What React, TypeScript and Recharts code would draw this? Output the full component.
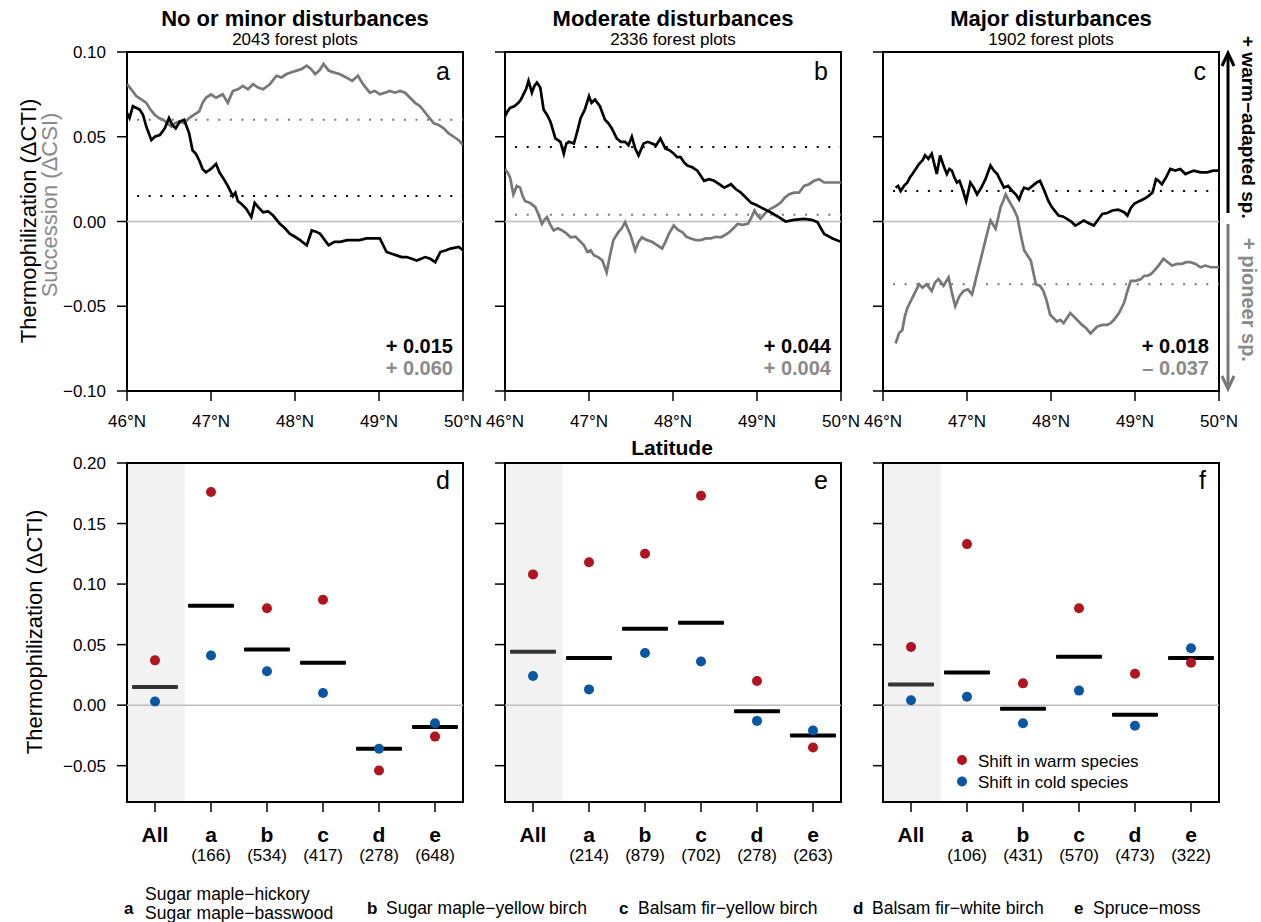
import React from 'react';
import {
  LineChart,
  ComposedChart,
  Line,
  XAxis,
  YAxis,
  ReferenceLine,
  ReferenceArea,
} from 'recharts';

const FONT = '"Liberation Sans", Arial, Helvetica, sans-serif';
const RED = '#B0141E';
const BLUE = '#0B56A3';
const GREY_LINE = '#777777';
const GREY_TEXT = '#8a8a8a';

const latTicks = [46, 47, 48, 49, 50];
const topYTicks = [-0.1, -0.05, 0, 0.05, 0.1];
const bottomYTicks = [-0.05, 0, 0.05, 0.1, 0.15, 0.2];
const groups = ['All', 'a', 'b', 'c', 'd', 'e'];
const groupTicks = [0, 1, 2, 3, 4, 5];

const titles = ['No or minor disturbances', 'Moderate disturbances', 'Major disturbances'];
const plotCounts = [2043, 2336, 1902];

// moving-window thermophilization (CTI) and succession (CSI) along latitude: [lat, value]
const ctiA: [number, number][] = [
  [46.0, 0.064], [46.03, 0.061], [46.07, 0.068], [46.15, 0.066], [46.19, 0.063], [46.23, 0.056],
  [46.29, 0.048], [46.33, 0.05], [46.39, 0.051], [46.45, 0.055], [46.5, 0.061], [46.54, 0.057],
  [46.58, 0.055], [46.63, 0.059], [46.68, 0.06], [46.74, 0.052], [46.78, 0.042], [46.82, 0.04],
  [46.86, 0.036], [46.9, 0.031], [46.94, 0.029], [47.0, 0.031], [47.06, 0.034], [47.1, 0.029],
  [47.14, 0.026], [47.2, 0.021], [47.26, 0.015], [47.29, 0.017], [47.32, 0.012], [47.37, 0.01],
  [47.42, 0.0075], [47.48, 0.0026], [47.52, 0.011], [47.57, 0.008], [47.62, 0.0055], [47.68, 0.006],
  [47.74, 0.0035], [47.82, -0.0014], [47.88, -0.004], [47.94, -0.0073], [48.0, -0.009], [48.06, -0.011],
  [48.14, -0.014], [48.2, -0.0053], [48.25, -0.006], [48.3, -0.0073], [48.4, -0.014], [48.47, -0.012],
  [48.54, -0.012], [48.62, -0.011], [48.69, -0.011], [48.77, -0.011], [48.85, -0.01], [49.01, -0.01],
  [49.09, -0.018], [49.15, -0.019], [49.21, -0.02], [49.27, -0.021], [49.33, -0.021], [49.39, -0.022],
  [49.45, -0.023], [49.55, -0.021], [49.61, -0.022], [49.67, -0.024], [49.73, -0.018], [49.8, -0.017],
  [49.85, -0.016], [49.95, -0.015], [50.0, -0.017],
];
const csiA: [number, number][] = [
  [46.0, 0.081], [46.05, 0.078], [46.11, 0.074], [46.17, 0.072], [46.23, 0.07], [46.28, 0.066],
  [46.33, 0.063], [46.38, 0.061], [46.43, 0.06], [46.48, 0.058], [46.53, 0.056], [46.57, 0.058],
  [46.62, 0.059], [46.68, 0.058], [46.74, 0.061], [46.8, 0.063], [46.86, 0.065], [46.9, 0.07],
  [46.94, 0.073], [47.0, 0.075], [47.06, 0.073], [47.1, 0.074], [47.14, 0.075], [47.2, 0.07],
  [47.26, 0.077], [47.32, 0.078], [47.38, 0.08], [47.44, 0.078], [47.5, 0.081], [47.56, 0.079],
  [47.62, 0.078], [47.7, 0.081], [47.78, 0.086], [47.84, 0.085], [47.9, 0.087], [47.96, 0.088],
  [48.02, 0.089], [48.08, 0.09], [48.14, 0.092], [48.19, 0.09], [48.24, 0.087], [48.29, 0.089],
  [48.34, 0.093], [48.4, 0.089], [48.46, 0.088], [48.53, 0.087], [48.61, 0.085], [48.68, 0.083],
  [48.75, 0.086], [48.81, 0.081], [48.89, 0.076], [48.95, 0.077], [49.01, 0.075], [49.07, 0.076],
  [49.13, 0.077], [49.19, 0.076], [49.25, 0.077], [49.31, 0.076], [49.37, 0.073], [49.43, 0.07],
  [49.49, 0.068], [49.57, 0.063], [49.65, 0.058], [49.71, 0.057], [49.77, 0.055], [49.83, 0.052],
  [49.89, 0.05], [49.95, 0.048], [50.0, 0.045],
];
const ctiB: [number, number][] = [
  [46.0, 0.062], [46.03, 0.065], [46.06, 0.067], [46.11, 0.068], [46.16, 0.07], [46.19, 0.072],
  [46.22, 0.075], [46.25, 0.078], [46.28, 0.083], [46.32, 0.076], [46.35, 0.08], [46.38, 0.082],
  [46.42, 0.079], [46.46, 0.066], [46.5, 0.063], [46.54, 0.059], [46.57, 0.054], [46.6, 0.049],
  [46.63, 0.048], [46.66, 0.047], [46.7, 0.04], [46.73, 0.046], [46.76, 0.047], [46.82, 0.046],
  [46.86, 0.053], [46.9, 0.061], [46.95, 0.066], [47.0, 0.074], [47.03, 0.07], [47.07, 0.072],
  [47.13, 0.068], [47.19, 0.06], [47.23, 0.058], [47.27, 0.055], [47.33, 0.049], [47.38, 0.047],
  [47.43, 0.047], [47.47, 0.045], [47.51, 0.05], [47.55, 0.043], [47.59, 0.039], [47.65, 0.046],
  [47.7, 0.047], [47.75, 0.046], [47.8, 0.045], [47.85, 0.049], [47.91, 0.043], [47.96, 0.042],
  [48.01, 0.04], [48.05, 0.038], [48.09, 0.038], [48.13, 0.035], [48.17, 0.033], [48.23, 0.032],
  [48.29, 0.03], [48.33, 0.027], [48.37, 0.024], [48.43, 0.025], [48.49, 0.024], [48.55, 0.022],
  [48.61, 0.02], [48.69, 0.022], [48.75, 0.019], [48.81, 0.017], [48.87, 0.014], [48.93, 0.011],
  [48.98, 0.01], [49.04, 0.0085], [49.1, 0.007], [49.16, 0.0055], [49.21, 0.004], [49.26, 0.0026],
  [49.34, 0.0], [49.44, 0.001], [49.56, 0.0016], [49.65, 0.001], [49.72, -0.0004], [49.76, -0.004],
  [49.8, -0.0073], [49.9, -0.01], [50.0, -0.012],
];
const csiB: [number, number][] = [
  [46.0, 0.031], [46.03, 0.029], [46.06, 0.026], [46.1, 0.016], [46.14, 0.021], [46.18, 0.02],
  [46.21, 0.015], [46.24, 0.012], [46.3, 0.011], [46.36, 0.0085], [46.4, 0.004], [46.44, -0.0014],
  [46.47, 0.001], [46.5, 0.0026], [46.54, -0.002], [46.58, -0.0053], [46.63, -0.004], [46.68, -0.0053],
  [46.73, -0.007], [46.78, -0.0093], [46.84, -0.009], [46.9, -0.012], [46.94, -0.014], [46.98, -0.018],
  [47.02, -0.017], [47.06, -0.02], [47.11, -0.021], [47.16, -0.023], [47.21, -0.03], [47.25, -0.02],
  [47.29, -0.011], [47.35, -0.0063], [47.39, -0.004], [47.43, -0.0004], [47.46, -0.004], [47.49, -0.0073],
  [47.52, -0.012], [47.55, -0.017], [47.59, -0.012], [47.63, -0.0093], [47.69, -0.011], [47.75, -0.012],
  [47.81, -0.014], [47.87, -0.016], [47.91, -0.012], [47.95, -0.0073], [48.01, -0.0024], [48.06, -0.005],
  [48.11, -0.0063], [48.16, -0.009], [48.21, -0.01], [48.27, -0.011], [48.33, -0.011], [48.39, -0.01],
  [48.45, -0.01], [48.51, -0.009], [48.57, -0.0093], [48.62, -0.008], [48.67, -0.0063], [48.72, -0.004],
  [48.77, -0.0014], [48.83, -0.002], [48.89, -0.0014], [48.93, 0.002], [48.97, 0.0065], [49.0, 0.004],
  [49.04, 0.0016], [49.1, 0.005], [49.16, 0.0075], [49.22, 0.009], [49.28, 0.011], [49.33, 0.014],
  [49.38, 0.016], [49.44, 0.017], [49.5, 0.017], [49.56, 0.021], [49.62, 0.022], [49.68, 0.024],
  [49.74, 0.025], [49.8, 0.023], [49.9, 0.023], [50.0, 0.023],
];
const ctiC: [number, number][] = [
  [46.15, 0.02], [46.18, 0.021], [46.21, 0.018], [46.25, 0.021], [46.29, 0.023], [46.32, 0.026],
  [46.35, 0.028], [46.39, 0.031], [46.43, 0.034], [46.47, 0.036], [46.5, 0.039], [46.54, 0.037],
  [46.58, 0.04], [46.61, 0.034], [46.64, 0.028], [46.68, 0.039], [46.72, 0.033], [46.76, 0.028],
  [46.79, 0.031], [46.82, 0.03], [46.85, 0.026], [46.88, 0.023], [46.91, 0.024], [46.94, 0.02],
  [46.99, 0.012], [47.04, 0.023], [47.08, 0.02], [47.12, 0.016], [47.17, 0.02], [47.22, 0.025],
  [47.25, 0.029], [47.28, 0.033], [47.32, 0.03], [47.36, 0.028], [47.4, 0.024], [47.44, 0.02],
  [47.49, 0.021], [47.54, 0.018], [47.58, 0.016], [47.62, 0.013], [47.65, 0.017], [47.68, 0.02],
  [47.73, 0.019], [47.78, 0.021], [47.83, 0.023], [47.87, 0.024], [47.93, 0.017], [47.97, 0.012],
  [48.01, 0.0085], [48.05, 0.006], [48.09, 0.0035], [48.14, 0.003], [48.19, 0.0016], [48.24, 0.0],
  [48.29, -0.0024], [48.34, -0.001], [48.39, 0.0006], [48.45, -0.001], [48.51, -0.0024], [48.56, 0.001],
  [48.61, 0.0045], [48.67, 0.005], [48.73, 0.0065], [48.8, 0.007], [48.87, 0.0055], [48.91, 0.0035],
  [48.95, 0.008], [48.99, 0.0104], [49.05, 0.012], [49.11, 0.0134], [49.16, 0.015], [49.21, 0.0173],
  [49.25, 0.025], [49.28, 0.024], [49.32, 0.022], [49.37, 0.026], [49.42, 0.031], [49.48, 0.03],
  [49.54, 0.031], [49.6, 0.028], [49.65, 0.029], [49.7, 0.03], [49.78, 0.029], [49.86, 0.029],
  [49.93, 0.03], [50.0, 0.03],
];
const csiC: [number, number][] = [
  [46.15, -0.072], [46.19, -0.066], [46.23, -0.064], [46.26, -0.056], [46.29, -0.051], [46.33, -0.047],
  [46.37, -0.043], [46.43, -0.037], [46.47, -0.039], [46.52, -0.037], [46.58, -0.041], [46.62, -0.036],
  [46.66, -0.034], [46.72, -0.038], [46.78, -0.033], [46.82, -0.042], [46.86, -0.05], [46.91, -0.044],
  [46.96, -0.041], [47.01, -0.04], [47.06, -0.043], [47.1, -0.035], [47.14, -0.027], [47.18, -0.019],
  [47.22, -0.011], [47.25, -0.005], [47.28, 0.0006], [47.34, -0.0043], [47.37, 0.002], [47.4, 0.0085],
  [47.43, 0.012], [47.46, 0.016], [47.49, 0.013], [47.52, 0.0104], [47.56, 0.007], [47.6, 0.0026],
  [47.64, -0.008], [47.68, -0.017], [47.72, -0.02], [47.76, -0.023], [47.79, -0.03], [47.82, -0.037],
  [47.87, -0.038], [47.91, -0.041], [47.95, -0.047], [47.99, -0.055], [48.03, -0.057], [48.07, -0.059],
  [48.11, -0.058], [48.15, -0.06], [48.19, -0.057], [48.23, -0.054], [48.27, -0.056], [48.31, -0.058],
  [48.37, -0.061], [48.42, -0.063], [48.47, -0.066], [48.51, -0.064], [48.55, -0.062], [48.61, -0.061],
  [48.67, -0.061], [48.71, -0.06], [48.75, -0.058], [48.81, -0.054], [48.87, -0.048], [48.91, -0.041],
  [48.95, -0.035], [49.01, -0.035], [49.07, -0.034], [49.11, -0.032], [49.15, -0.032], [49.19, -0.031],
  [49.23, -0.029], [49.28, -0.026], [49.34, -0.022], [49.39, -0.024], [49.44, -0.026], [49.5, -0.025],
  [49.56, -0.025], [49.61, -0.024], [49.66, -0.024], [49.72, -0.025], [49.78, -0.027], [49.84, -0.026],
  [49.9, -0.027], [49.95, -0.027], [50.0, -0.027],
];

const ctiMeans = [0.015, 0.044, 0.018];
const csiMeans = [0.06, 0.004, -0.037];
const ctiMeanLabels = ['+ 0.015', '+ 0.044', '+ 0.018'];
const csiMeanLabels = ['+ 0.060', '+ 0.004', '– 0.037'];

// forest type results per disturbance class
const countsD = [166, 534, 417, 278, 648];
const countsE = [214, 879, 702, 278, 263];
const countsF = [106, 431, 570, 473, 322];
const warmD = [0.037, 0.176, 0.08, 0.087, -0.054, -0.026];
const coldD = [0.003, 0.041, 0.028, 0.01, -0.036, -0.015];
const meanD = [0.015, 0.082, 0.046, 0.035, -0.036, -0.018];
const warmE = [0.108, 0.118, 0.125, 0.173, 0.02, -0.035];
const coldE = [0.024, 0.013, 0.043, 0.036, -0.013, -0.021];
const meanE = [0.044, 0.039, 0.063, 0.068, -0.005, -0.025];
const warmF = [0.048, 0.133, 0.018, 0.08, 0.026, 0.035];
const coldF = [0.004, 0.007, -0.015, 0.012, -0.017, 0.047];
const meanF = [0.017, 0.027, -0.003, 0.04, -0.008, 0.039];

const forestTypes = [
  { key: 'a', names: ['Sugar maple−hickory', 'Sugar maple−basswood'] },
  { key: 'b', names: ['Sugar maple−yellow birch'] },
  { key: 'c', names: ['Balsam fir−yellow birch'] },
  { key: 'd', names: ['Balsam fir−white birch'] },
  { key: 'e', names: ['Spruce−moss'] },
];

const plotLefts = [127, 505, 883];
const PLOT_W = 336;
const PLOT_H = 339;
const TOP_Y = 52;
const BOTTOM_Y = 463;
const Y_AXIS_W = 80;
const M_TOP = 10;
const M_RIGHT = 25;
const X_AXIS_H = 80;

const fmt = (v: number) => {
  const s = Math.abs(v).toFixed(2);
  return v < 0 ? `−${s}` : s;
};

const toRows = (pts: [number, number][]) => pts.map(([lat, v]) => ({ lat, v }));

function TopPanel({ idx, cti, csi, showY }: any) {
  const left = plotLefts[idx];
  return (
    <div style={{ position: 'absolute', left: left - Y_AXIS_W, top: TOP_Y - M_TOP }}>
      <LineChart
        width={Y_AXIS_W + PLOT_W + M_RIGHT}
        height={M_TOP + PLOT_H + X_AXIS_H}
        margin={{ top: M_TOP, right: M_RIGHT, bottom: 0, left: 0 }}
      >
        <XAxis
          type="number"
          dataKey="lat"
          domain={[46, 50]}
          ticks={latTicks}
          interval={0}
          allowDataOverflow
          tickFormatter={(v: number) => `${v}°N`}
          axisLine={false}
          tickLine={{ stroke: '#000', strokeWidth: 1.5 }}
          tickSize={10}
          tickMargin={14}
          height={X_AXIS_H}
          tick={{ fontSize: 17, fill: '#000' }}
        />
        <YAxis
          type="number"
          domain={[-0.1, 0.1]}
          ticks={topYTicks}
          interval={0}
          allowDataOverflow
          width={Y_AXIS_W}
          tickFormatter={(v: number) => (showY ? fmt(v) : '')}
          axisLine={false}
          tickLine={{ stroke: '#000', strokeWidth: 1.5 }}
          tickSize={10}
          tickMargin={11}
          tick={{ fontSize: 17, fill: '#000' }}
        />
        <ReferenceLine y={0} stroke="#bdbdbd" strokeWidth={1.5} />
        <ReferenceLine
          segment={[{ x: 46.12, y: csiMeans[idx] }, { x: 50, y: csiMeans[idx] }]}
          stroke={GREY_LINE}
          strokeWidth={2}
          strokeDasharray="2 9.6"
        />
        <ReferenceLine
          segment={[{ x: 46.12, y: ctiMeans[idx] }, { x: 50, y: ctiMeans[idx] }]}
          stroke="#000"
          strokeWidth={2}
          strokeDasharray="2 9.6"
        />
        <Line
          data={toRows(csi)}
          dataKey="v"
          type="linear"
          stroke={GREY_LINE}
          strokeWidth={2.7}
          dot={false}
          activeDot={false}
          isAnimationActive={false}
        />
        <Line
          data={toRows(cti)}
          dataKey="v"
          type="linear"
          stroke="#000"
          strokeWidth={2.7}
          dot={false}
          activeDot={false}
          isAnimationActive={false}
        />
        <ReferenceArea x1={46} x2={50} y1={-0.1} y2={0.1} fill="none" stroke="#000" strokeWidth={2} />
      </LineChart>
    </div>
  );
}

function BottomPanel({ idx, counts, warm, cold, mean, showY }: any) {
  const left = plotLefts[idx];
  const data = groups.map((g, i) => ({ pos: i, warm: warm[i], cold: cold[i], mean: mean[i] }));

  const GroupTick = (p: any) => {
    const i = Number(p.payload.value);
    return (
      <g>
        <text x={p.x} y={p.y + 30} textAnchor="middle" fontSize={21} fontWeight="bold" fill="#000">
          {groups[i]}
        </text>
        {i > 0 && (
          <text x={p.x} y={p.y + 49} textAnchor="middle" fontSize={17} fill="#000">
            ({counts[i - 1]})
          </text>
        )}
      </g>
    );
  };

  const meanBar = (p: any) => {
    if (p.cx == null || p.cy == null) return <g key={`m${p.index}`} />;
    return (
      <rect
        key={`m${p.index}`}
        x={p.cx - 23}
        y={p.cy - 2}
        width={46}
        height={4}
        rx={1}
        fill={p.index === 0 ? '#333' : '#000'}
      />
    );
  };
  const dot = (color: string) => (p: any) =>
    p.cx == null || p.cy == null ? (
      <g key={`d${p.index}`} />
    ) : (
      <circle key={`d${p.index}`} cx={p.cx} cy={p.cy} r={5} fill={color} />
    );

  return (
    <div style={{ position: 'absolute', left: left - Y_AXIS_W, top: BOTTOM_Y - M_TOP }}>
      <ComposedChart
        width={Y_AXIS_W + PLOT_W + M_RIGHT}
        height={M_TOP + PLOT_H + X_AXIS_H}
        data={data}
        margin={{ top: M_TOP, right: M_RIGHT, bottom: 0, left: 0 }}
      >
        <XAxis
          dataKey="pos"
          type="number"
          domain={[-0.5, 5.5]}
          ticks={groupTicks}
          interval={0}
          allowDataOverflow
          axisLine={false}
          tickLine={{ stroke: '#000', strokeWidth: 1.5 }}
          tickSize={10}
          tickMargin={0}
          height={X_AXIS_H}
          tick={GroupTick}
        />
        <YAxis
          type="number"
          domain={[-0.08, 0.2]}
          ticks={bottomYTicks}
          interval={0}
          allowDataOverflow
          width={Y_AXIS_W}
          tickFormatter={(v: number) => (showY ? fmt(v) : '')}
          axisLine={false}
          tickLine={{ stroke: '#000', strokeWidth: 1.5 }}
          tickSize={10}
          tickMargin={11}
          tick={{ fontSize: 17, fill: '#000' }}
        />
        <ReferenceArea x1={-0.5} x2={0.53} y1={-0.08} y2={0.2} fill="#f2f2f2" fillOpacity={1} stroke="none" />
        <ReferenceLine y={0} stroke="#bdbdbd" strokeWidth={1.5} />
        <Line dataKey="mean" stroke="none" dot={meanBar} activeDot={false} isAnimationActive={false} />
        <Line dataKey="cold" stroke="none" dot={dot(BLUE)} activeDot={false} isAnimationActive={false} />
        <Line dataKey="warm" stroke="none" dot={dot(RED)} activeDot={false} isAnimationActive={false} />
        <ReferenceArea x1={-0.5} x2={5.5} y1={-0.08} y2={0.2} fill="none" stroke="#000" strokeWidth={2} />
      </ComposedChart>
    </div>
  );
}

function Overlay() {
  const legendX = [124, 367, 619, 853, 1074];
  return (
    <svg
      width={1261}
      height={922}
      style={{ position: 'absolute', left: 0, top: 0, pointerEvents: 'none', fontFamily: FONT }}
    >
      {titles.map((t, i) => {
        const cx = plotLefts[i] + PLOT_W / 2;
        return (
          <g key={t}>
            <text x={cx} y={26} textAnchor="middle" fontSize={22} fontWeight="bold" fill="#000">
              {t}
            </text>
            <text x={cx} y={45} textAnchor="middle" fontSize={17} fill="#000">
              {plotCounts[i]} forest plots
            </text>
            <text x={plotLefts[i] + PLOT_W - 13} y={80} textAnchor="end" fontSize={25} fill="#000">
              {['a', 'b', 'c'][i]}
            </text>
            <text x={plotLefts[i] + PLOT_W - 10} y={353} textAnchor="end" fontSize={20} fontWeight="bold" fill="#000">
              {ctiMeanLabels[i]}
            </text>
            <text x={plotLefts[i] + PLOT_W - 10} y={375} textAnchor="end" fontSize={20} fontWeight="bold" fill={GREY_TEXT}>
              {csiMeanLabels[i]}
            </text>
            <text x={plotLefts[i] + PLOT_W - 13} y={489} textAnchor="end" fontSize={25} fill="#000">
              {['d', 'e', 'f'][i]}
            </text>
          </g>
        );
      })}

      <text transform="translate(36,221) rotate(-90)" textAnchor="middle" fontSize={22} fill="#000">
        Thermophilization (ΔCTI)
      </text>
      <text transform="translate(57,205) rotate(-90)" textAnchor="middle" fontSize={22} fill={GREY_TEXT}>
        Succession (ΔCSI)
      </text>
      <text transform="translate(42,632) rotate(-90)" textAnchor="middle" fontSize={22} fill="#000">
        Thermophilization (ΔCTI)
      </text>

      <text x={672} y={455} textAnchor="middle" fontSize={21} fontWeight="bold" fill="#000">
        Latitude
      </text>

      {/* direction arrows on the right */}
      <line x1={1228} y1={213} x2={1228} y2={55} stroke="#000" strokeWidth={3} />
      <polyline points="1222,66 1228,53 1234,66" fill="none" stroke="#000" strokeWidth={3} />
      <line x1={1228} y1={224} x2={1228} y2={387} stroke={GREY_LINE} strokeWidth={3} />
      <polyline points="1222,376 1228,389 1234,376" fill="none" stroke={GREY_LINE} strokeWidth={3} />
      <text transform="translate(1242,36) rotate(90)" fontSize={19} fontWeight="bold" fill="#000">
        + warm−adapted sp.
      </text>
      <text transform="translate(1242,238) rotate(90)" fontSize={20} fontWeight="bold" fill={GREY_TEXT}>
        + pioneer sp.
      </text>

      {/* legend inside panel f */}
      <circle cx={962} cy={760} r={5} fill={RED} />
      <circle cx={962} cy={781.5} r={5} fill={BLUE} />
      <text x={978} y={766.5} fontSize={17} fill="#000">
        Shift in warm species
      </text>
      <text x={978} y={788} fontSize={17} fill="#000">
        Shift in cold species
      </text>

      {/* forest type legend */}
      {forestTypes.map((f, i) => (
        <g key={f.key}>
          <text x={legendX[i]} y={914} fontSize={17} fontWeight="bold" fill="#000">
            {f.key}
          </text>
          {f.names.length === 1 ? (
            <text x={legendX[i] + 19} y={914} fontSize={17.5} fill="#000">
              {f.names[0]}
            </text>
          ) : (
            <>
              <text x={legendX[i] + 21} y={900} fontSize={17.5} fill="#000">
                {f.names[0]}
              </text>
              <text x={legendX[i] + 21} y={919} fontSize={17.5} fill="#000">
                {f.names[1]}
              </text>
            </>
          )}
        </g>
      ))}
    </svg>
  );
}

export default function App() {
  return (
    <div
      style={{
        position: 'absolute',
        left: 0,
        top: 0,
        width: 1261,
        height: 922,
        background: '#fff',
        fontFamily: FONT,
        overflow: 'hidden',
      }}
    >
      <TopPanel idx={0} cti={ctiA} csi={csiA} showY />
      <TopPanel idx={1} cti={ctiB} csi={csiB} showY={false} />
      <TopPanel idx={2} cti={ctiC} csi={csiC} showY={false} />
      <BottomPanel idx={0} counts={countsD} warm={warmD} cold={coldD} mean={meanD} showY />
      <BottomPanel idx={1} counts={countsE} warm={warmE} cold={coldE} mean={meanE} showY={false} />
      <BottomPanel idx={2} counts={countsF} warm={warmF} cold={coldF} mean={meanF} showY={false} />
      <Overlay />
    </div>
  );
}
